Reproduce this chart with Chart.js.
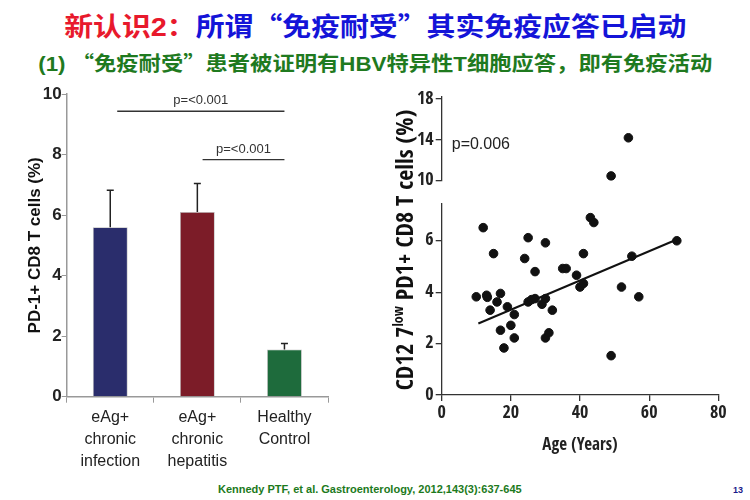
<!DOCTYPE html>
<html>
<head>
<meta charset="utf-8">
<script src="https://cdn.jsdelivr.net/npm/chart.js@4.4.1/dist/chart.umd.min.js"></script>
<style>
  body { margin: 0; width: 750px; height: 500px; overflow: hidden; background: #fff; position: relative; }
  .title { position: absolute; top: 6px; left: 0; width: 750px; text-align: center; font: bold 26px 'Noto Sans CJK SC', sans-serif; white-space: nowrap; }
  .title .inner, .subtitle .inner { display: inline-block; transform-origin: center; }
  .title .inner { transform: scaleX(1.11); }
  .subtitle .inner { transform: scaleX(1.115); }
  .title .red { color: #e8192c; }
  .title .blue { color: #1414d8; }
  .lat { font-family: 'Liberation Sans', Arial, sans-serif; }
  .subtitle { position: absolute; top: 48px; left: 0; width: 750px; text-align: center; font: bold 20px 'Noto Sans CJK SC', sans-serif; color: #1f7a1f; white-space: nowrap; }
  .footer { position: absolute; top: 483px; left: 218px; font: bold 11px 'Liberation Sans', Arial, sans-serif; color: #1c7a1c; }
  .page { position: absolute; top: 485px; left: 733px; font: bold 9px 'Liberation Sans', Arial, sans-serif; color: #1a1a8a; }
  #barWrap { position: absolute; left: 0; top: 80px; width: 340px; height: 400px; }
  #scatterWrap { position: absolute; left: 380px; top: 80px; width: 360px; height: 380px; }
</style>
</head>
<body>
<div class="title"><span class="inner"><span class="red">新认识<span class="lat">2</span>：</span><span class="blue">所谓“免疫耐受”其实免疫应答已启动</span></span></div>
<div class="subtitle"><span class="inner"><span class="lat">(1) </span>“免疫耐受”患者被证明有<span class="lat">HBV</span>特异性<span class="lat">T</span>细胞应答，即有免疫活动</span></div>
<div id="barWrap"><canvas id="barChart" width="340" height="400"></canvas></div>
<div id="scatterWrap"><canvas id="scatterChart" width="360" height="380"></canvas></div>
<div class="footer">Kennedy PTF, et al. Gastroenterology, 2012,143(3):637-645</div>
<div class="page">13</div>

<script>
// left chart: PD-1+ CD8 T cells per group
const barLabels = [['eAg+', 'chronic', 'infection'], ['eAg+', 'chronic', 'hepatitis'], ['Healthy', 'Control']];
const barValues = [5.6, 6.1, 1.56];
const barErrors = [1.22, 0.94, 0.2];
const barColors = ['#2a2d6c', '#7c1c28', '#1e6b3c'];
const sigFrom = [0.08, 1.06];
const sigTo = [2, 2];
const sigLevel = [9.43, 7.83];
const sigText = ['p=<0.001', 'p=<0.001'];

// right chart: CD127low PD1+ CD8 T cells vs age
const ages = [10, 12, 13, 13.2, 14, 15, 16, 17, 17, 18, 19, 20, 21, 21, 24, 25, 25, 26, 27, 27,
  29, 30, 30, 30, 31, 32, 35, 36, 39, 40, 41, 41, 43, 44, 49, 52, 55, 57, 68, 49, 54];
const cells = [3.82, 6.51, 3.88, 3.8, 3.3, 5.5, 3.62, 3.95, 2.52, 1.83, 3.43, 2.71, 3.13, 2.22, 5.31, 6.12, 3.62, 3.71, 4.8, 3.75,
  3.53, 5.92, 3.75, 2.22, 2.42, 3.3, 4.92, 4.92, 4.66, 4.2, 4.34, 5.5, 6.9, 6.71, 1.53, 4.2, 5.4, 3.82, 6.0, 10.46, 14.2];
const fitAges = [10.6, 68];
const fitValues = [2.78, 6.05];
const xTicks = [0, 20, 40, 60, 80];
const lowTicks = [0, 2, 4, 6];
const highTicks = [10, 14, 18];
const pText = 'p=0.006';

const SANS = "'Liberation Sans', Arial, sans-serif";
const NARROW = "'Open Sans Condensed', 'Roboto Condensed', sans-serif";

const errorBars = {
  id: 'errorBars',
  afterDatasetsDraw(chart) {
    const ctx = chart.ctx;
    const y = chart.scales.y, x = chart.scales.x;
    ctx.save();
    ctx.strokeStyle = '#222';
    ctx.lineWidth = 1.5;
    chart.getDatasetMeta(0).data.forEach((bar, i) => {
      const top = y.getPixelForValue(barValues[i] + barErrors[i]);
      ctx.beginPath();
      ctx.moveTo(bar.x, bar.y);
      ctx.lineTo(bar.x, top);
      ctx.moveTo(bar.x - 3.5, top);
      ctx.lineTo(bar.x + 3.5, top);
      ctx.stroke();
    });
    // significance lines
    ctx.fillStyle = '#333';
    ctx.font = '13px ' + SANS;
    ctx.textAlign = 'center';
    ctx.textBaseline = 'bottom';
    ctx.strokeStyle = '#333';
    ctx.lineWidth = 1.3;
    sigLevel.forEach((lv, i) => {
      const x1 = x.getPixelForValue(sigFrom[i]);
      const x2 = x.getPixelForValue(sigTo[i]);
      const yy = y.getPixelForValue(lv);
      ctx.beginPath();
      ctx.moveTo(x1, yy);
      ctx.lineTo(x2, yy);
      ctx.stroke();
      ctx.fillText(sigText[i], (x1 + x2) / 2, yy - 4);
    });
    ctx.restore();
  }
};

new Chart(document.getElementById('barChart'), {
  type: 'bar',
  data: {
    labels: barLabels,
    datasets: [{
      data: barValues,
      backgroundColor: barColors,
      borderColor: '#bbbbbb',
      borderWidth: 0.8,
      categoryPercentage: 1,
      barPercentage: 0.4
    }]
  },
  options: {
    responsive: false,
    animation: false,
    layout: { padding: { top: 14, right: 12, left: 0, bottom: 0 } },
    plugins: { legend: { display: false }, tooltip: { enabled: false } },
    scales: {
      x: {
        grid: { display: true, drawOnChartArea: false, color: '#999', tickLength: 6, offset: true },
        border: { color: '#999', width: 1.5 },
        ticks: { color: '#222', font: { family: SANS, size: 16, lineHeight: 1.38 }, padding: 4, maxRotation: 0 },
        afterFit(s) { s.height = 83.3; }
      },
      y: {
        min: 0, max: 10,
        ticks: { stepSize: 2, color: '#222', padding: 0, font: { family: SANS, size: 17, weight: 'bold' } },
        grid: { display: true, drawOnChartArea: false, color: '#999', tickLength: 5 },
        border: { color: '#999', width: 1.5 },
        title: { display: true, text: 'PD-1+ CD8 T cells (%)', color: '#111', font: { family: SANS, size: 17, weight: 'bold' }, padding: { top: 25, bottom: 0 } },
        afterFit(s) { s.width = 66.7; }
      }
    }
  },
  plugins: [errorBars]
});

const lowPoints = [], highPoints = [];
ages.forEach((a, i) => {
  if (cells[i] >= 8) highPoints.push({ x: a, y: cells[i] });
  else lowPoints.push({ x: a, y: cells[i] });
});

const scatterText = {
  id: 'scatterText',
  afterDraw(chart) {
    const ctx = chart.ctx;
    const area = chart.chartArea;
    ctx.save();
    // p value
    ctx.fillStyle = '#222';
    ctx.font = '16px ' + SANS;
    ctx.textBaseline = 'middle';
    ctx.fillText(pText, chart.scales.x.getPixelForValue(2.9), chart.scales.yHigh.getPixelForValue(13.5));
    // y title with superscript
    const main = 'bold 24px ' + NARROW;
    const sup = 'bold 14px ' + NARROW;
    const parts = [['CD12 7', main, 0], ['low', sup, -8], [' PD1+ CD8 T cells (%)', main, 0]];
    let total = 0;
    parts.forEach(p => { ctx.font = p[1]; total += ctx.measureText(p[0]).width; });
    ctx.translate(27, (area.top + area.bottom) / 2 + 4);
    ctx.rotate(-Math.PI / 2);
    ctx.fillStyle = '#111';
    let pos = -total / 2;
    parts.forEach(p => {
      ctx.font = p[1];
      ctx.fillText(p[0], pos, p[2]);
      pos += ctx.measureText(p[0]).width;
    });
    ctx.restore();
  }
};

const tickFont = { family: NARROW, size: 18, weight: 'bold' };
const axisGrid = { display: true, drawOnChartArea: false, color: '#333', tickLength: 6, lineWidth: 1.3 };

new Chart(document.getElementById('scatterChart'), {
  type: 'scatter',
  data: {
    datasets: [
      { data: lowPoints, yAxisID: 'y', backgroundColor: '#111', borderColor: '#111', pointRadius: 4.3 },
      { data: highPoints, yAxisID: 'yHigh', backgroundColor: '#111', borderColor: '#111', pointRadius: 4.3 },
      {
        type: 'line',
        data: fitAges.map((a, i) => ({ x: a, y: fitValues[i] })),
        yAxisID: 'y', borderColor: '#111', borderWidth: 2, pointRadius: 0, fill: false
      }
    ]
  },
  options: {
    responsive: false,
    animation: false,
    layout: { padding: { top: 17, right: 21.7, left: 0, bottom: 0 } },
    plugins: { legend: { display: false }, tooltip: { enabled: false } },
    scales: {
      x: {
        type: 'linear', min: 0, max: 80,
        afterBuildTicks(s) { s.ticks = xTicks.map(v => ({ value: v })); },
        ticks: { color: '#222', font: tickFont, padding: 1 },
        grid: axisGrid,
        border: { color: '#333', width: 1.3 },
        title: { display: true, text: 'Age (Years)', color: '#222', font: { family: NARROW, size: 17, weight: 'bold' }, padding: { top: 0 } },
        afterFit(s) { s.height = 65; }
      },
      y: {
        type: 'linear', min: 0, max: 7.46, stack: 'v', stackWeight: 191.7, weight: 0,
        afterBuildTicks(s) { s.ticks = lowTicks.map(v => ({ value: v })); },
        ticks: { color: '#222', font: tickFont, padding: 2 },
        grid: axisGrid,
        border: { color: '#333', width: 1.3 },
        afterFit(s) { s.width = 61.7; }
      },
      yGap: {
        type: 'linear', min: 7.46, max: 10, stack: 'v', stackWeight: 22.6, display: false, weight: 1
      },
      yHigh: {
        type: 'linear', min: 10, max: 18.2, stack: 'v', stackWeight: 83.6, weight: 2,
        afterBuildTicks(s) { s.ticks = highTicks.map(v => ({ value: v })); },
        ticks: { color: '#222', font: tickFont, padding: 2 },
        grid: axisGrid,
        border: { color: '#333', width: 1.3 },
        afterFit(s) { s.width = 61.7; }
      }
    }
  },
  plugins: [scatterText]
});
</script>
</body>
</html>
